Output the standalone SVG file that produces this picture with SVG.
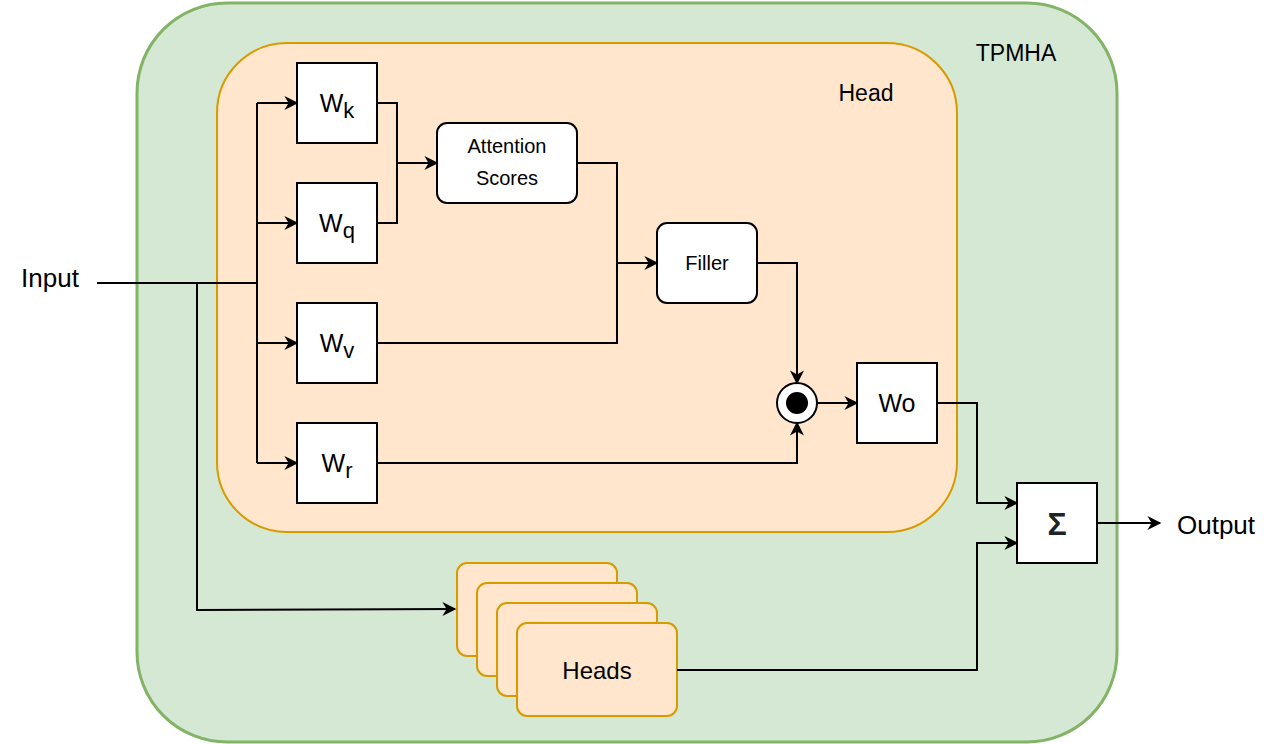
<svg xmlns="http://www.w3.org/2000/svg" width="1278" height="744" viewBox="0 0 1278 744">
<defs>
<marker id="ar" viewBox="0 0 10 10" refX="9" refY="5" markerWidth="15" markerHeight="14" markerUnits="userSpaceOnUse" orient="auto" style="overflow:visible"><path d="M0,0 L10,5 L0,10 L3,5 Z" fill="#000"/></marker>
</defs>
<style>
text{font-family:"Liberation Sans",Arial,sans-serif;fill:#000}
.b{fill:#fff;stroke:#000;stroke-width:2}
.h{fill:#ffe6cc;stroke:#d79b00;stroke-width:2}
.c{fill:none;stroke:#000;stroke-width:2}
.a{marker-end:url(#ar)}
</style>
<rect id="tpmha" x="137" y="3" width="980" height="739" rx="90" fill="#d5e8d4" stroke="#82b366" stroke-width="3"/>
<text x="1016" y="61" font-size="23" text-anchor="middle">TPMHA</text>
<g id="head"><rect x="217" y="43" width="740" height="489" rx="70" class="h"/><text x="866" y="101" font-size="23" text-anchor="middle">Head</text></g>
<g id="wk"><rect x="297" y="63" width="80" height="80" class="b"/><text x="337" y="112" font-size="25" text-anchor="middle">W<tspan font-size="22" dy="6">k</tspan></text></g>
<g id="wq"><rect x="297" y="183" width="80" height="80" class="b"/><text x="337" y="232" font-size="25" text-anchor="middle">W<tspan font-size="22" dy="6">q</tspan></text></g>
<g id="wv"><rect x="297" y="303" width="80" height="80" class="b"/><text x="337" y="352" font-size="25" text-anchor="middle">W<tspan font-size="22" dy="6">v</tspan></text></g>
<g id="wr"><rect x="297" y="423" width="80" height="80" class="b"/><text x="337" y="472" font-size="25" text-anchor="middle">W<tspan font-size="22" dy="6">r</tspan></text></g>
<g id="att"><rect x="437" y="123" width="140" height="80" rx="10" class="b"/><text x="507" y="153" font-size="20" text-anchor="middle">Attention</text><text x="507" y="185" font-size="20" text-anchor="middle">Scores</text></g>
<g id="filler"><rect x="657" y="223" width="100" height="80" rx="10" class="b"/><text x="707" y="270" font-size="20" text-anchor="middle">Filler</text></g>
<g id="dot"><circle cx="797" cy="403" r="20" class="b"/><circle cx="797" cy="403" r="11" fill="#000"/></g>
<g id="wo"><rect x="857" y="363" width="80" height="80" class="b"/><text x="897" y="412" font-size="25" text-anchor="middle">Wo</text></g>
<g id="sigma"><rect x="1017" y="483" width="80" height="80" class="b"/><text x="1057" y="535" font-size="32" font-weight="bold" text-anchor="middle" style="fill:#222">Σ</text></g>
<g id="heads">
<rect x="457" y="563" width="160" height="93" rx="10" class="h"/>
<rect x="477" y="583" width="160" height="93" rx="10" class="h"/>
<rect x="497" y="603" width="160" height="93" rx="10" class="h"/>
<rect x="517" y="623" width="160" height="93" rx="10" class="h"/>
<text x="597" y="679" font-size="24" text-anchor="middle">Heads</text></g>
<text x="50" y="287" font-size="26" text-anchor="middle">Input</text>
<text x="1216" y="534" font-size="26" text-anchor="middle">Output</text>
<g id="connectors">
<path class="c" d="M97,283 H257 M257,103 V463"/>
<path class="c a" d="M257,103 H297"/>
<path class="c a" d="M257,223 H297"/>
<path class="c a" d="M257,343 H297"/>
<path class="c a" d="M257,463 H297"/>
<path class="c a" d="M197,283 V610 L455,609"/>
<path class="c" d="M377,103 H397 V223 H377"/>
<path class="c a" d="M397,163 H437"/>
<path class="c" d="M577,163 H617 V343 H377"/>
<path class="c a" d="M617,263 H657"/>
<path class="c a" d="M757,263 H797 V383"/>
<path class="c a" d="M377,463 H797 V423"/>
<path class="c a" d="M817,403 H857"/>
<path class="c a" d="M937,403 H977 V503 H1017"/>
<path class="c a" d="M677,670 H977 V543 H1017"/>
<path class="c a" d="M1097,523 H1160"/>
</g>
</svg>
